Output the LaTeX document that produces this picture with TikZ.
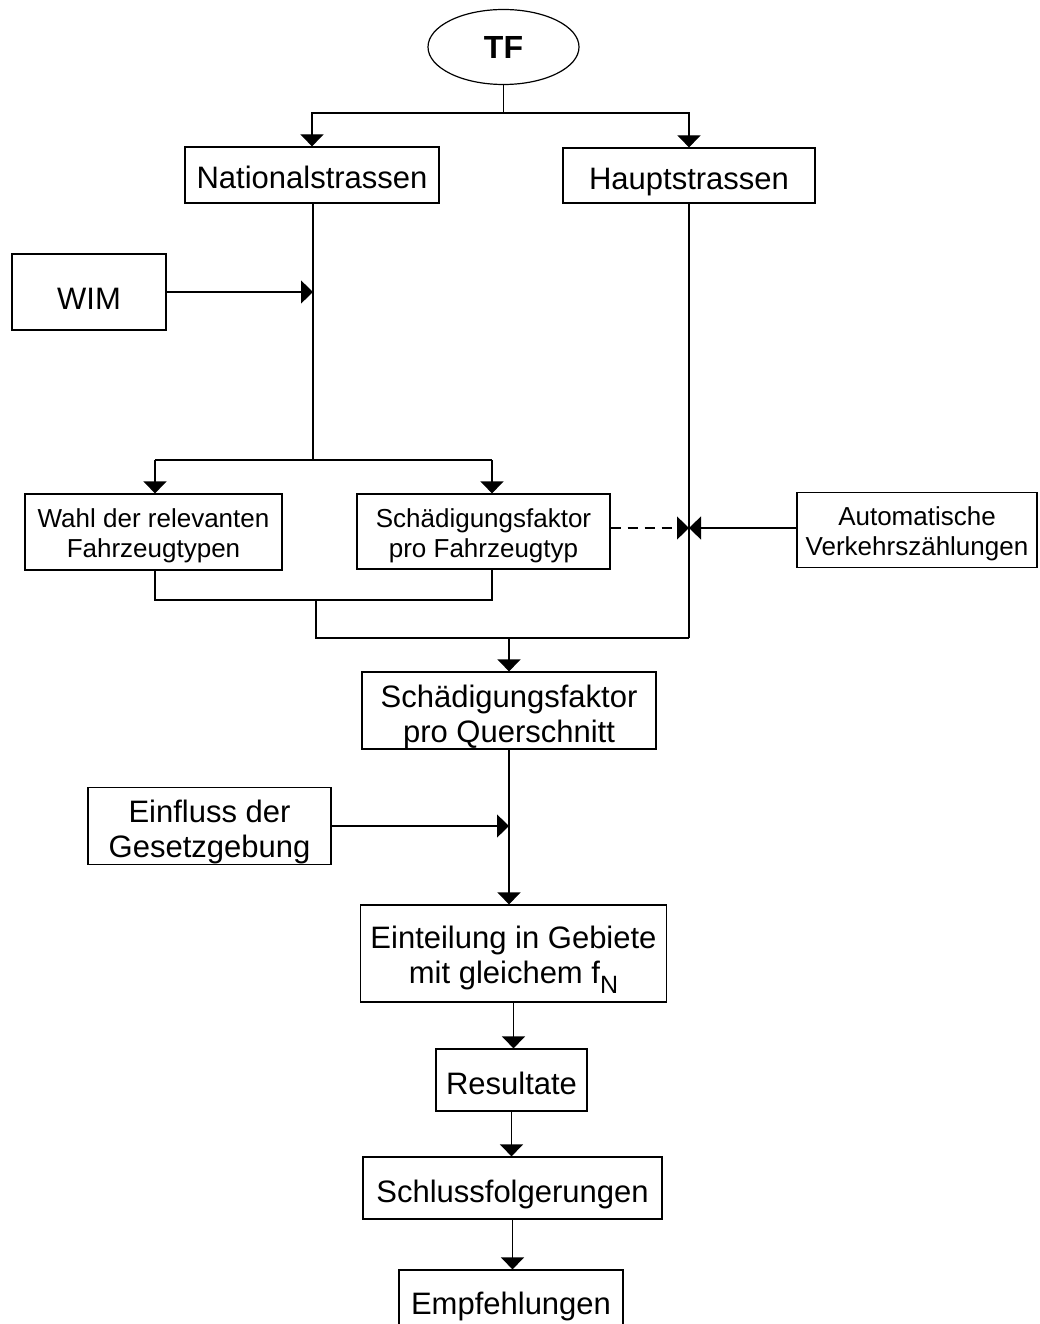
\documentclass[tikz,border=0pt]{standalone}
\usepackage{fontspec}
\setmainfont{Liberation Sans}
\usetikzlibrary{shapes.geometric,arrows.meta}
\newcommand{\bigtext}{\fontsize{31}{35}\selectfont}
\newcommand{\smalltext}{\fontsize{26}{30}\selectfont}
\def\hgap{\rule{0pt}{35pt}}
\def\dgap{\rule[-7pt]{0pt}{7pt}}
\def\shgap{\rule{0pt}{27.5pt}}
\def\sdgap{\rule[-6pt]{0pt}{6pt}}

\begin{document}
\begin{tikzpicture}[x=1pt,y=-1pt,line width=1.2pt,
    box/.style={draw,align=center,inner sep=0pt,font=\bigtext},
    sbox/.style={box,font=\smalltext},
    arr/.style={-{Triangle[width=23pt,length=12pt]}}]
      \useasboundingbox (0,0) rectangle (1039,1324);

      \node[draw,ellipse,minimum width=151pt,minimum height=75pt,inner sep=0pt,
        font=\fontsize{32}{32}\selectfont\bfseries] (tf) at (503.5,47) {TF};
      \node[box,minimum width=254pt,minimum height=56pt] (nat) at (312,175) {\hgap Nationalstrassen\dgap};
      \node[box,minimum width=252pt,minimum height=55pt] (haupt) at (689,175.5) {\hgap Hauptstrassen\dgap};
      \node[box,minimum width=154pt,minimum height=76pt] (wim) at (89,292) {\rule{0pt}{42pt}WIM\dgap};
      \node[sbox,minimum width=257pt,minimum height=76pt] (wahl) at (153.5,532)
        {\shgap Wahl der relevanten\\Fahrzeugtypen\sdgap};
      \node[sbox,minimum width=253pt,minimum height=75pt] (sfz) at (483.5,531.5)
        {\shgap Schädigungsfaktor\\pro Fahrzeugtyp\sdgap};
      \node[sbox,minimum width=240pt,minimum height=75pt] (avz) at (917,530)
        {\shgap Automatische\\Verkehrszählungen\sdgap};
      \node[box,minimum width=294pt,minimum height=75pt] (sqs) at (509,710.5)
        {\hgap Schädigungsfaktor\\pro Querschnitt\dgap};
      \node[box,minimum width=243pt,minimum height=72pt] (einf) at (209.5,826)
        {\hgap Einfluss der\\Gesetzgebung\dgap};
      \node[box,minimum width=306pt,minimum height=97pt] (eig) at (513.5,953.5)
        {\hgap Einteilung in Gebiete\\mit gleichem f\raisebox{-0.3em}{\fontsize{25}{25}\selectfont N}\dgap};
      \node[box,minimum width=151pt,minimum height=62pt] (res) at (511.5,1080) {\hgap Resultate\dgap};
      \node[box,minimum width=299pt,minimum height=62pt] (sfl) at (512.5,1188) {\hgap Schlussfolgerungen\dgap};
      \node[box,minimum width=224pt,minimum height=60pt] (emp) at (511,1300) {\hgap Empfehlungen\dgap};

      \coordinate (tfsplit) at (503.5,113);
      \coordinate (nsplit) at (313,460);
      \coordinate (wsplit) at (155,460);
      \coordinate (ssplit) at (492,460);
      \coordinate (wlow) at (155,600);
      \coordinate (slow) at (492,600);
      \coordinate (nlow) at (316,600);
      \coordinate (mlow) at (316,638);
      \coordinate (hlow) at (689,638);
      \coordinate (cross) at (689,528);

      \draw (tf) -- (tfsplit);
      \draw[arr] (tfsplit) -| (nat.north);
      \draw[arr] (tfsplit) -| (haupt.north);

      \draw (nat.south -| nsplit) -- (nsplit);
      \draw[arr] (wim.east) -- (wim.east -| nsplit);
      \draw (wsplit) -- (ssplit);
      \draw[arr] (wsplit) -- (wsplit |- wahl.north);
      \draw[arr] (ssplit) -- (ssplit |- sfz.north);

      \draw (wsplit |- wahl.south) -- (wlow) -- (slow) -- (slow |- sfz.south);
      \draw (nlow) -- (mlow) -- (hlow);
      \draw (haupt) -- (hlow);
      \draw[arr] (sqs.north |- hlow) -- (sqs.north);

      \draw[arr,dash pattern=on 10pt off 7pt] (sfz.east |- cross) -- (cross);
      \draw[arr] (avz.west |- cross) -- (cross);

      \draw[arr] (sqs.south) -- (sqs.south |- eig.north);
      \draw[arr] (einf.east) -- (einf.east -| sqs.south);
      \foreach \a/\b in {eig/res,res/sfl,sfl/emp}
        \draw[arr] (\a.south) -- (\a.south |- \b.north);

    \end{tikzpicture}
\end{document}
